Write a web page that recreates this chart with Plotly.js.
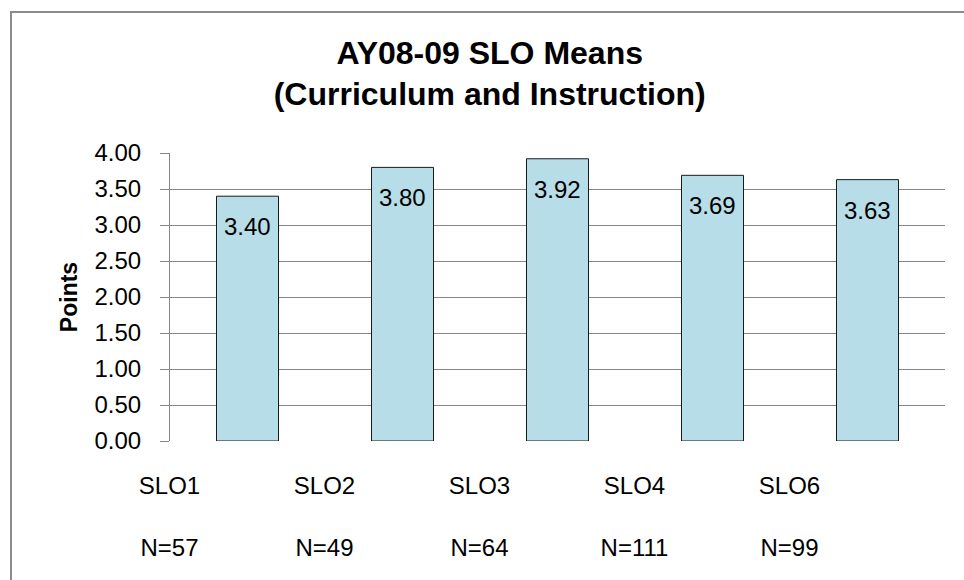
<!DOCTYPE html>
<html>
<head>
<meta charset="utf-8">
<script src="https://cdn.plot.ly/plotly-3.0.1.min.js"></script>
<style>
  html, body { margin: 0; padding: 0; background: #fff; overflow: hidden; }
  #chart { position: absolute; left: 0; top: 0; width: 964px; height: 580px; }
  #frame { position: absolute; left: 10px; top: 11px; width: 1000px; height: 620px;
           border: 2px solid #8c8c8c; pointer-events: none; box-sizing: border-box; }
</style>
</head>
<body>
<div id="chart"></div>
<div id="frame"></div>
<script>
const categories = ["SLO1", "SLO2", "SLO3", "SLO4", "SLO6"];
const counts = ["N=57", "N=49", "N=64", "N=111", "N=99"];
const means = [3.40, 3.80, 3.92, 3.69, 3.63];
const yTicks = [0, 0.5, 1, 1.5, 2, 2.5, 3, 3.5, 4];

const FONT = "Liberation Sans, Arial, sans-serif";
const tickText = categories.map((c, i) => c + "<br><br>" + counts[i]);

const trace = {
  type: "bar",
  x: categories,
  y: means,
  marker: { color: "#B7DDE8", line: { color: "#1a1a1a", width: 1 } },
  hoverinfo: "none"
};

const labels = categories.map((c, i) => ({
  x: c, y: means[i], xref: "x", yref: "y",
  text: means[i].toFixed(2),
  showarrow: false, yanchor: "top", xanchor: "center", yshift: -15,
  font: { family: FONT, size: 24, color: "#000" }
}));

const layout = {
  width: 964, height: 580,
  margin: { l: 170, r: 19, t: 153, b: 139 },
  paper_bgcolor: "#fff", plot_bgcolor: "#fff",
  showlegend: false,
  bargap: 0.6,
  font: { family: FONT, color: "#000" },
  annotations: labels,
  title: {
    text: "AY08-09 SLO Means<br>(Curriculum and Instruction)",
    font: { family: FONT, size: 32, weight: "bold", color: "#000" },
    xref: "container", x: 0.508, xanchor: "center",
    yref: "container", y: 0.89, yanchor: "top"
  },
  xaxis: {
    type: "category",
    tickvals: categories,
    ticktext: tickText,
    ticks: "",
    showgrid: false,
    showline: false,
    zeroline: false,
    tickfont: { family: FONT, size: 24, color: "#000" },
    ticklabelshift: -78,
    ticklabelstandoff: 28
  },
  yaxis: {
    range: [0, 4],
    tickvals: yTicks,
    tickformat: ".2f",
    ticks: "outside",
    ticklen: 9,
    tickcolor: "#868686",
    showline: true,
    linecolor: "#868686",
    linewidth: 1,
    showgrid: true,
    gridcolor: "#868686",
    gridwidth: 1,
    zeroline: false,
    tickfont: { family: FONT, size: 24, color: "#000" },
    ticklabelstandoff: 14,
    title: { text: "Points", font: { family: FONT, size: 23, weight: "bold", color: "#000" }, standoff: 10 }
  }
};

Plotly.newPlot("chart", [trace], layout, { staticPlot: true, displayModeBar: false });
</script>
</body>
</html>
